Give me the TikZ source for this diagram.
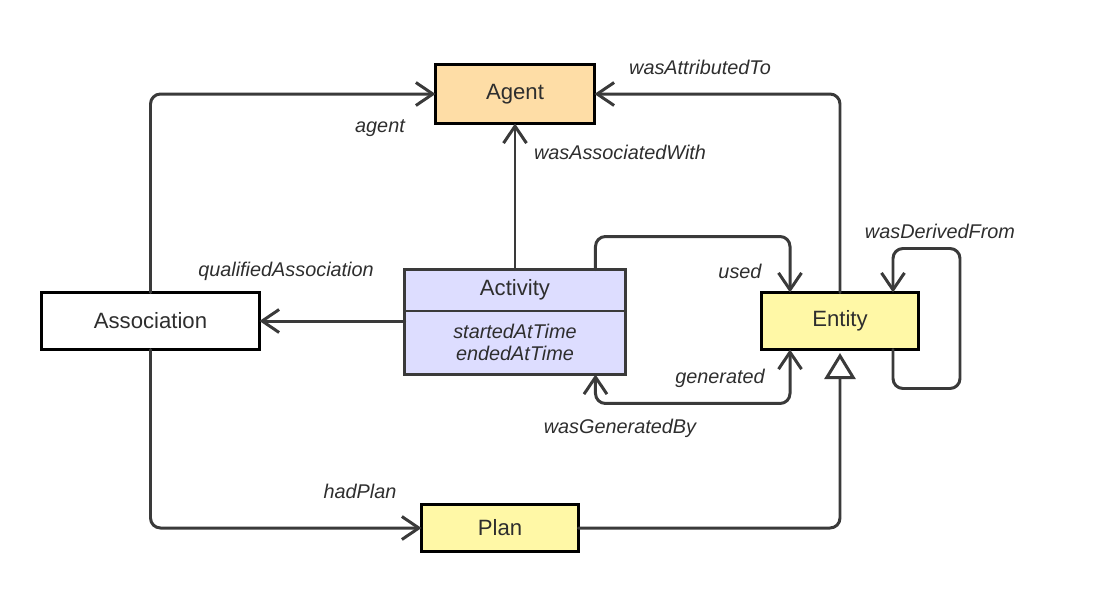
\documentclass[tikz,border=0pt]{standalone}
\usepackage{fontspec}
\setmainfont{Liberation Sans}
\usepackage{tikz}
\usetikzlibrary{arrows.meta, positioning}

\definecolor{agentfill}{HTML}{FEDDA6}
\definecolor{actfill}{HTML}{DDDDFF}
\definecolor{entfill}{HTML}{FFF8A6}
\definecolor{linegray}{HTML}{3A3A3A}
\definecolor{txtgray}{HTML}{2E2E2E}

\begin{document}
\begin{tikzpicture}[
    x=0.02cm, y=-0.02cm,
    box/.style={rectangle, draw=black, line width=1.6pt, outer sep=0pt,
                inner sep=0pt, text=txtgray,
                font=\fontsize{12.6}{15}\selectfont},
    lbl/.style={inner sep=0pt, text=txtgray,
                font=\fontsize{11.3}{14}\selectfont\itshape},
    link/.style={draw=linegray, line width=1.7pt, rounded corners=0.2cm,
                 line cap=round},
    >={Straight Barb[length=3.4mm, width=4.6mm]}
  ]
  \useasboundingbox (0,0) rectangle (1100,593);

  \node[box, fill=agentfill, minimum width=3.18cm, minimum height=1.18cm]
    (agent) at (515,94) {Agent};
  \node[box, draw=linegray, fill=actfill, minimum width=4.42cm, minimum height=0.83cm]
    (act) at (515,290.25) {Activity};
  \node[box, draw=linegray, fill=actfill, minimum width=4.42cm, minimum height=1.27cm,
        align=center, font=\fontsize{11.3}{12.6}\selectfont\itshape, below=0pt of act]
    (acttime) {startedAtTime\\endedAtTime};
  \node[box, fill=white, minimum width=4.36cm, minimum height=1.14cm]
    (assoc) at (150.5,321) {Association};
  \node[box, fill=entfill, minimum width=3.14cm, minimum height=1.14cm]
    (entity) at (840,321) {Entity};
  \node[box, fill=entfill, minimum width=3.14cm, minimum height=0.94cm]
    (plan) at (500,528) {Plan};

  % connectors
  \draw[link, ->] (assoc.north) |- (agent.west);
  \draw[link, ->] (entity.north) |- (agent.east);
  \draw[link, ->] (act.north) -- (agent.south);
  \draw[link, ->] (acttime.west |- assoc.east) -- (assoc.east);
  \draw[link, ->] ([xshift=-0.6cm]act.north east) -- ++(0,-33)
        -| ([xshift=-1cm]entity.north);
  \draw[link, <->] ([xshift=-0.6cm]acttime.south east) -- ++(0,29)
        -| ([xshift=-1cm]entity.south);
  \draw[link, ->] ([xshift=1.06cm]entity.south) -- ++(0,39) -- ++(67,0)
        -- ++(0,-140) -- ++(-67,0) -- ([xshift=1.06cm]entity.north);
  \draw[link, ->] (assoc.south) |- (plan.west);
  \draw[link, -{Triangle[length=5.2mm, width=6.2mm, fill=white]}, shorten >=2pt]
    (plan.east) -| (entity.south);

  % labels
  \node[lbl] (lattr)  at (700,67)  {wasAttributedTo};
  \node[lbl] (lagent) at (380,128) {agent};
  \node[lbl] (lassoc) at (620,152) {wasAssociatedWith};
  \node[lbl] (lqual)  at (286,271) {qualifiedAssociation};
  \node[lbl] (lused)  at (740,271) {used};
  \node[lbl] (lderiv) at (940,231) {wasDerivedFrom};
  \node[lbl] (lgen)   at (720,378) {generated};
  \node[lbl] (lgenby) at (620,428) {wasGeneratedBy};
  \node[lbl] (lplan)  at (360,491) {hadPlan};
\end{tikzpicture}
\end{document}
